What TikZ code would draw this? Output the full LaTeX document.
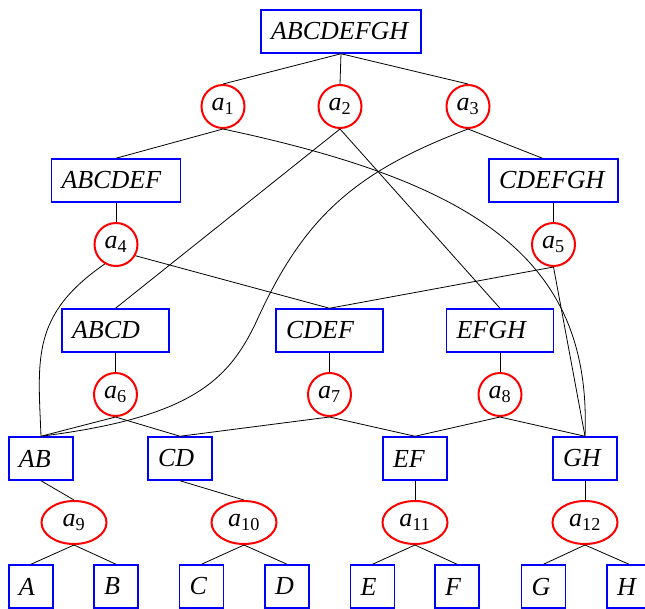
\documentclass[tikz,border=0pt]{standalone}
\usepackage{fontspec}
\setmainfont{Liberation Serif}
\usetikzlibrary{positioning,shapes.geometric}

\begin{document}
\begin{tikzpicture}[x=1pt, y=-1pt, node distance=64pt,
    setbox/.style={draw=blue, line width=1.5pt,
      font=\fontsize{26pt}{30pt}\selectfont\itshape,
      align=left, text width=#1, inner xsep=10pt, inner ysep=0pt,
      minimum height=43pt},
    opnode/.style={circle, draw=red, line width=2pt,
      font=\fontsize{26pt}{30pt}\selectfont,
      inner sep=0pt, minimum size=43pt},
    opwide/.style={opnode, ellipse, minimum width=65pt, minimum height=43pt}]
  \useasboundingbox (0,0) rectangle (645,608);

  % sets and operations, top to bottom
  \node[setbox=140pt] (abcdefgh) at (341,31.5) {ABCDEFGH};
  \node[opnode] (a1) at (223,106.5) {\textit{a}\textsubscript{1}};
  \node[opnode] (a2) at (340,106.5) {\textit{a}\textsubscript{2}};
  \node[opnode] (a3) at (468,106.5) {\textit{a}\textsubscript{3}};

  \node[setbox=109pt] (abcdef) at (116,180.5) {ABCDEF};
  \node[setbox=109pt] (cdefgh) at (553.5,180.5) {CDEFGH};
  \node[opnode] (a4) [below of=abcdef] {\textit{a}\textsubscript{4}};
  \node[opnode] (a5) [below of=cdefgh] {\textit{a}\textsubscript{5}};

  \node[setbox=87pt] (abcd) at (115.5,330.5) {ABCD};
  \node[setbox=87pt] (cdef) at (329.5,330.5) {CDEF};
  \node[setbox=87pt] (efgh) at (500,330.5) {EFGH};
  \node[opnode] (a6) [below of=abcd] {\textit{a}\textsubscript{6}};
  \node[opnode] (a7) [below of=cdef] {\textit{a}\textsubscript{7}};
  \node[opnode] (a8) [below of=efgh] {\textit{a}\textsubscript{8}};

  \node[setbox=44pt] (ab) at (41,458.5) {AB};
  \node[setbox=44pt] (cd) at (180,458.5) {CD};
  \node[setbox=44pt] (ef) at (415,458.5) {EF};
  \node[setbox=44pt] (gh) at (585,458.5) {GH};
  \node[opwide] (a9) at (74,522.5) {\textit{a}\textsubscript{9}};
  \node[opwide] (a10) at (244,522.5) {\textit{a}\textsubscript{10}};
  \node[opwide] (a11) [below of=ef] {\textit{a}\textsubscript{11}};
  \node[opwide] (a12) [below of=gh] {\textit{a}\textsubscript{12}};

  \node[setbox=24pt] (a) at (31,586.5) {A};
  \node[setbox=24pt] (b) at (116,586.5) {B};
  \node[setbox=24pt] (c) at (201.5,586.5) {C};
  \node[setbox=24pt] (d) at (287,586.5) {D};
  \node[setbox=24pt] (e) at (372.5,586.5) {E};
  \node[setbox=24pt] (f) at (457,586.5) {F};
  \node[setbox=24pt] (g) at (543.5,586.5) {G};
  \node[setbox=24pt] (h) at (629,586.5) {H};

  \begin{scope}[line width=0.8pt, every edge/.style={draw=black}]
    \path (abcdefgh.south) edge (a1.north) edge (a2.north) edge (a3.north);
    \path (a1.south) edge (abcdef.north);
    \path (a2.south) edge (abcd.north) edge (efgh.north);
    \path (a3.south) edge ([xshift=-11pt]cdefgh.north);
    \path (abcdef) edge (a4);
    \path (cdefgh) edge (a5);
    \path (a4.-30) edge (cdef.north);
    \path (a5.south) edge (cdef.north) edge (gh.north);
    \path (abcd) edge (a6);
    \path (cdef) edge (a7);
    \path (efgh) edge (a8);
    \path (a6.south) edge (ab.north) edge (cd.north);
    \path (a7.south) edge (cd.north) edge (ef.north);
    \path (a8.south) edge (ef.north) edge (gh.north);
    \path (ab.south) edge (a9.north);
    \path (cd.south) edge (a10.north);
    \path (ef) edge (a11);
    \path (gh) edge (a12);
    \path (a9.south) edge (a.north) edge (b.north);
    \path (a10.south) edge (c.north) edge (d.north);
    \path (a11.south) edge (e.north) edge (f.north);
    \path (a12.south) edge (g.north) edge (h.north);
    % long curved links
    \draw (a1.south) .. controls +(255,54) and +(7,-176) .. (gh.north);
    \draw (a3.south) .. controls +(-114,43) and +(46,-100) .. (258,318)
      .. controls +(-29,64) and +(149,-19) .. (ab.north);
    \draw (a4.240) .. controls +(-74,51) and +(-3,-77) .. (ab.north);
  \end{scope}
\end{tikzpicture}
\end{document}
